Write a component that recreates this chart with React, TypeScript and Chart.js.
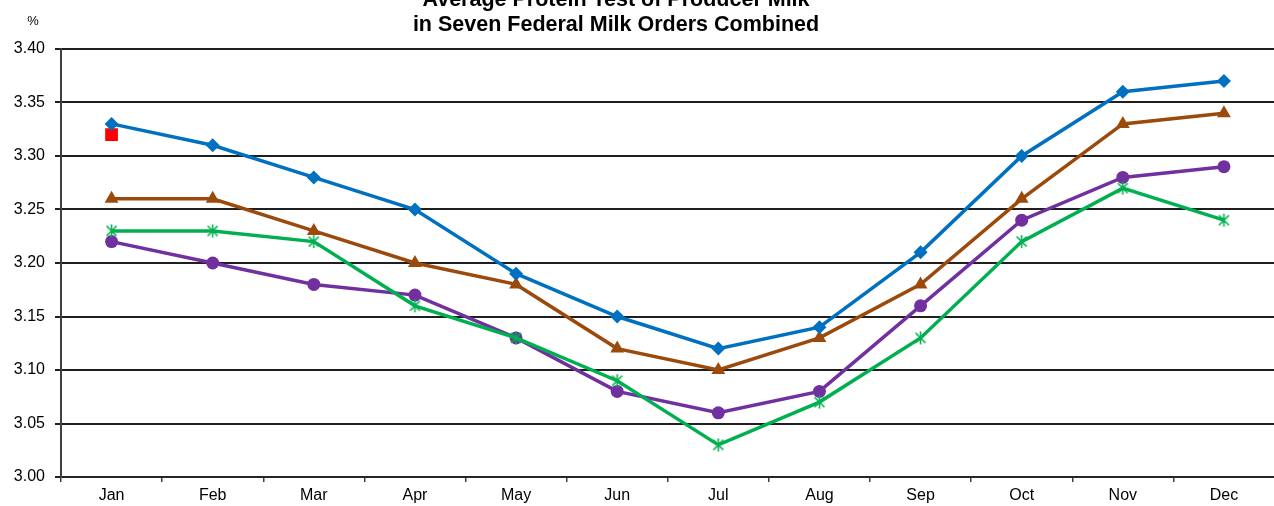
import React, { useEffect, useRef } from "react";
import { Chart, registerables } from "chart.js";

Chart.register(...registerables);

const months = ["Jan", "Feb", "Mar", "Apr", "May", "Jun", "Jul", "Aug", "Sep", "Oct", "Nov", "Dec"];

const seriesBlue = [3.33, 3.31, 3.28, 3.25, 3.19, 3.15, 3.12, 3.14, 3.21, 3.30, 3.36, 3.37];
const seriesBrown = [3.26, 3.26, 3.23, 3.20, 3.18, 3.12, 3.10, 3.13, 3.18, 3.26, 3.33, 3.34];
const seriesGreen = [3.23, 3.23, 3.22, 3.16, 3.13, 3.09, 3.03, 3.07, 3.13, 3.22, 3.27, 3.24];
const seriesPurple = [3.22, 3.20, 3.18, 3.17, 3.13, 3.08, 3.06, 3.08, 3.16, 3.24, 3.28, 3.29];
const seriesRed = [3.32, null, null, null, null, null, null, null, null, null, null, null];

const titleLines = ["Average Protein Test of Producer Milk", "in Seven Federal Milk Orders Combined"];
const unitLabel = "%";

const FONT = "'Liberation Sans', Arial, Helvetica, sans-serif";

// Asterisk marker: an X crossed by a vertical stroke
function makeAsterisk(color: string): HTMLCanvasElement {
  const c = document.createElement("canvas");
  c.width = 15;
  c.height = 15;
  const g = c.getContext("2d")!;
  g.strokeStyle = color;
  g.lineWidth = 1.6;
  g.beginPath();
  g.moveTo(2.5, 2.5);
  g.lineTo(12.5, 12.5);
  g.moveTo(12.5, 2.5);
  g.lineTo(2.5, 12.5);
  g.moveTo(7.5, 1);
  g.lineTo(7.5, 14);
  g.stroke();
  return c;
}

const headerPlugin = {
  id: "header",
  afterDraw(chart: any) {
    const ctx = chart.ctx;
    ctx.save();
    ctx.fillStyle = "#000";
    ctx.textAlign = "center";
    ctx.textBaseline = "alphabetic";
    ctx.font = `bold 21.5px ${FONT}`;
    ctx.fillText(titleLines[0], 616, 6);
    ctx.fillText(titleLines[1], 616, 31);
    ctx.font = `13px ${FONT}`;
    ctx.fillText(unitLabel, 33, 25);
    ctx.restore();
  },
};

export default function App() {
  const canvasRef = useRef<HTMLCanvasElement | null>(null);

  useEffect(() => {
    const canvas = canvasRef.current;
    if (!canvas) return;
    const asterisk = makeAsterisk("#00B050");
    const chart = new Chart(canvas, {
      type: "line",
      data: {
        labels: months,
        datasets: [
          {
            label: "Blue",
            data: seriesBlue,
            borderColor: "#0070C0",
            backgroundColor: "#0070C0",
            borderWidth: 3.5,
            pointStyle: "rectRot",
            pointRadius: 7,
            pointBorderWidth: 0,
          },
          {
            label: "Brown",
            data: seriesBrown,
            borderColor: "#9C4A0C",
            backgroundColor: "#9C4A0C",
            borderWidth: 3.5,
            pointStyle: "triangle",
            pointRadius: 8,
            pointBorderWidth: 0,
          },
          {
            label: "Green",
            data: seriesGreen,
            borderColor: "#00B050",
            backgroundColor: "#00B050",
            borderWidth: 3.5,
            pointStyle: asterisk as any,
            pointRadius: 7,
          },
          {
            label: "Purple",
            data: seriesPurple,
            borderColor: "#7030A0",
            backgroundColor: "#7030A0",
            borderWidth: 3.5,
            pointStyle: "circle",
            pointRadius: 6.5,
            pointBorderWidth: 0,
          },
          {
            label: "Red",
            data: seriesRed,
            borderColor: "#FF0000",
            backgroundColor: "#FF0000",
            borderWidth: 0,
            showLine: false,
            pointStyle: "rect",
            pointRadius: 9,
            pointBorderWidth: 0,
          },
        ],
      },
      options: {
        responsive: false,
        animation: false,
        devicePixelRatio: 1,
        layout: { padding: { top: 49, left: 0, right: 0, bottom: 0 } },
        plugins: {
          legend: { display: false },
          title: { display: false },
          tooltip: { enabled: false },
        },
        elements: { line: { tension: 0 } },
        scales: {
          x: {
            offset: true,
            grid: {
              offset: true,
              drawOnChartArea: false,
              drawTicks: true,
              tickLength: 5,
              color: "#404040",
              lineWidth: 1.5,
            },
            border: { color: "#262626", width: 2 },
            ticks: {
              color: "#000",
              font: { family: FONT, size: 16 },
              padding: 4,
              maxRotation: 0,
              autoSkip: false,
            },
            afterFit: (scale: any) => {
              scale.height = 29;
            },
          },
          y: {
            min: 3.0,
            max: 3.4,
            grid: {
              color: "#1f1f1f",
              lineWidth: 2,
              tickLength: 6,
              drawTicks: true,
            },
            border: { color: "#404040", width: 2 },
            ticks: {
              stepSize: 0.05,
              color: "#000",
              font: { family: FONT, size: 16 },
              padding: 10,
              callback: (v: any) => Number(v).toFixed(2),
            },
            afterFit: (scale: any) => {
              scale.width = 61;
            },
          },
        },
      },
      plugins: [headerPlugin],
    });
    return () => chart.destroy();
  }, []);

  return (
    <div
      style={{
        position: "absolute",
        left: 0,
        top: 0,
        width: 1274,
        height: 506,
        overflow: "hidden",
        background: "#fff",
      }}
    >
      <canvas ref={canvasRef} width={1285} height={506} style={{ display: "block" }} />
    </div>
  );
}
